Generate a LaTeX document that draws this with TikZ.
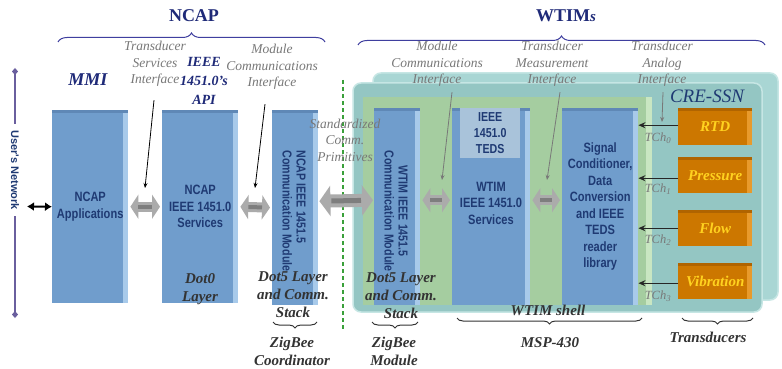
\documentclass[tikz,border=0pt]{standalone}
\usepackage{fontspec}
\setmainfont{Liberation Serif}
\newfontfamily\boxfont{Liberation Sans}[FakeStretch=0.82]
\newfontfamily\netfont{Liberation Sans}
\usetikzlibrary{arrows.meta,decorations.pathreplacing,shapes.geometric}
\definecolor{navy}{HTML}{1F3A73}
\definecolor{titlenavy}{HTML}{1F2A78}
\definecolor{boxblue}{HTML}{709DCC}
\definecolor{boxlight}{HTML}{A8CAEA}
\definecolor{boxtop}{HTML}{5F88B6}
\definecolor{tedsfill}{HTML}{A9C3DA}
\definecolor{tealback}{HTML}{A9D6D4}
\definecolor{tealp}{HTML}{94C6C3}
\definecolor{tealedge}{HTML}{C6E6E4}
\definecolor{greenp}{HTML}{A5CDA0}
\definecolor{greenedge}{HTML}{C9E6C2}
\definecolor{orng}{HTML}{CC7700}
\definecolor{orngl}{HTML}{E89A2C}
\definecolor{orngd}{HTML}{B06400}
\definecolor{ytxt}{HTML}{FFD21F}
\definecolor{graytxt}{HTML}{787878}
\definecolor{bracecol}{HTML}{3F3F9F}
\definecolor{netcol}{HTML}{6A5F9E}
\definecolor{arrgray}{HTML}{ABABAB}
\definecolor{arrdark}{HTML}{7E7E7E}
\definecolor{dashgreen}{HTML}{3AA03A}
\tikzset{
  blk/.style={anchor=north west, inner sep=0pt, fill=boxblue, text=navy, align=center,
    font={\boxfont\bfseries\fontsize{13.5}{16.5}\selectfont},
    path picture={
      \fill[boxlight] ([xshift=-5pt]path picture bounding box.north east) rectangle (path picture bounding box.south east);
      \fill[boxtop] (path picture bounding box.north west) rectangle ([yshift=-3pt]path picture bounding box.north east);
    }},
  tedsbox/.style={anchor=north west, inner sep=0pt, fill=tedsfill, text=navy, align=center,
    font={\boxfont\bfseries\fontsize{13}{16}\selectfont}},
  boxtxt/.style={text=navy, align=center, font={\boxfont\bfseries\fontsize{13.5}{16.5}\selectfont}},
  rottxt/.style={text=navy, rotate=-90, font={\boxfont\bfseries\fontsize{13}{14}\selectfont}},
  trans/.style={anchor=north west, inner sep=0pt, fill=orng, text=ytxt,
    font={\bfseries\itshape\fontsize{15}{17}\selectfont},
    minimum width=74pt,
    path picture={
      \fill[orngl] ([xshift=-5pt]path picture bounding box.north east) rectangle (path picture bounding box.south east);
      \fill[orngd] (path picture bounding box.north west) rectangle ([yshift=-3pt]path picture bounding box.north east);
    }},
  gl/.style={text=graytxt, align=center, font={\itshape\fontsize{13.5}{16.5}\selectfont}},
  bl/.style={text=black!80, align=center, font={\bfseries\itshape\fontsize{15}{18}\selectfont}},
  nl/.style={text=titlenavy, align=center, font={\bfseries\itshape\fontsize{14}{19}\selectfont}},
  title/.style={text=titlenavy, font={\bfseries\fontsize{18}{20}\selectfont}},
  barrow/.style={line width=10pt, draw=arrgray, {Triangle[length=8pt,width=24pt]}-{Triangle[length=8pt,width=24pt]}, shorten <=2pt, shorten >=2pt},
  bstripe/.style={line width=4pt, draw=arrdark, shorten <=10pt, shorten >=10pt},
  bigarrow/.style={line width=13pt, draw=arrgray, {Triangle[length=11pt,width=30pt]}-{Triangle[length=11pt,width=30pt]}, shorten <=1pt, shorten >=1pt},
  bigstripe/.style={line width=5pt, draw=arrdark, shorten <=13pt, shorten >=13pt},
  ifarrow/.style={-{Stealth[length=5pt,width=4pt]}, line width=0.8pt},
  tarrow/.style={-{Stealth[length=7pt,width=6pt]}, line width=1.3pt, draw=black!85},
  topbrace/.style={draw=bracecol, line width=1pt, decorate, decoration={brace, amplitude=9pt}},
  botbrace/.style={draw=black!80, line width=1pt, decorate, decoration={brace, amplitude=6pt}},
  tch/.style={text=graytxt, font={\itshape\fontsize{12.5}{14}\selectfont}},
}
\begin{document}
\begin{tikzpicture}[x=1pt,y=-1pt]
\useasboundingbox (0,0) rectangle (782,369);
\fill[white] (0,0) rectangle (782,369);

% panels
\fill[tealback, draw=tealedge, line width=1.5pt, rounded corners=8pt] (373,73) rectangle (778,300);
\fill[tealp, draw=tealedge, line width=1.5pt, rounded corners=8pt] (353,83) rectangle (762,312);
\fill[greenp] (363,97) rectangle (652,305);
\fill[greenedge] (646,97) rectangle (652,305);

% dashed separator
\draw[dashgreen, line width=1.3pt, dash pattern=on 4pt off 3pt] (343,80) -- (343,330);

% titles and braces
\node[title] (ncaptitle) at (194,16) {NCAP};
\node[title] (wtimtitle) at (566,16) {WTIM\textit{\fontsize{15}{18}\selectfont s}};
\draw[topbrace] (58,42) -- (325,42);
\draw[topbrace] (358,45) -- (765,45);

% user's network
\node[rotate=-90, text=navy, font={\netfont\bfseries\fontsize{11}{13}\selectfont}] (net) at (15,170) {User's Network};
\coordinate (nettop) at (15,68);
\coordinate (netbot) at (15,318);
\draw[netcol, line width=1.4pt, -{Turned Square[length=7pt,width=6pt]}, shorten <=3pt] (net.west) -- (nettop);
\draw[netcol, line width=1.4pt, -{Turned Square[length=7pt,width=6pt]}, shorten <=3pt] (net.east) -- (netbot);
\coordinate (netarr) at (27,206.5);

% boxes
\node[blk, minimum width=76pt, minimum height=193pt] (app) at (52,110) {NCAP\\Applications};
\node[blk, minimum width=76pt, minimum height=193pt] (svc) at (162,110) {NCAP\\IEEE 1451.0\\Services};
\node[blk, minimum width=46pt, minimum height=195pt] (ncom) at (272,110) {};
\node[blk, minimum width=46pt, minimum height=197pt] (wcom) at (374,108) {};
\node[blk, minimum width=78pt, minimum height=197pt] (wsvc) at (452,108) {};
\node[blk, minimum width=76pt, minimum height=197pt] (sig) at (562,108) {Signal\\Conditioner,\\Data\\Conversion\\and IEEE\\TEDS\\reader\\library};
\node[tedsbox, minimum width=60pt, minimum height=50pt] (teds) at (460,108) {IEEE\\1451.0\\TEDS};
\node[boxtxt] (wsvct) at (491,203) {WTIM\\IEEE 1451.0\\Services};
\node[rottxt, align=left] (ncomt) at (294,211) {NCAP IEEE 1451.5\\Communication Module};
\node[rottxt, align=center] (wcomt) at (396,211) {WTIM IEEE 1451.5\\Communication Module};

% transducers
\node[trans, minimum height=37pt] (rtd) at (678,108) {RTD};
\node[trans, minimum height=36pt] (pres) at (678,157) {Pressure};
\node[trans, minimum height=36pt] (flow) at (678,210) {Flow};
\node[trans, minimum height=36pt] (vib) at (678,263) {Vibration};

% user network arrow
\draw[{Latex[length=7pt,width=9pt]}-{Latex[length=7pt,width=9pt]}, line width=2pt] (netarr) -- (app.west);

% block arrows
\draw[barrow] (app.east) -- (svc.west);
\draw[bstripe] (app.east) -- (svc.west);
\draw[barrow] (svc.east) -- (ncom.west);
\draw[bstripe] (svc.east) -- (ncom.west);
\draw[bigarrow] ([yshift=6.5pt]ncom.east) -- ([yshift=6.5pt]wcom.west);
\draw[bigstripe] ([yshift=6.5pt]ncom.east) -- ([yshift=6.5pt]wcom.west);
\draw[barrow] ([yshift=6.5pt]wcom.east) -- ([yshift=6.5pt]wsvc.west);
\draw[bstripe] ([yshift=6.5pt]wcom.east) -- ([yshift=6.5pt]wsvc.west);
\draw[barrow] ([yshift=6.5pt]wsvc.east) -- ([yshift=6.5pt]sig.west);
\draw[bstripe] ([yshift=6.5pt]wsvc.east) -- ([yshift=6.5pt]sig.west);

% transducer arrows
\draw[tarrow] ([yshift=1.5pt]rtd.west) -- ([yshift=1.5pt]rtd.west -| sig.east);
\draw[tarrow] ([yshift=-3pt]pres.west) -- ([yshift=-3pt]pres.west -| sig.east);
\draw[tarrow] (flow.west) -- (flow.west -| sig.east);
\draw[tarrow] ([yshift=-2pt]vib.west) -- ([yshift=-2pt]vib.west -| sig.east);
\node[tch] (tch0) at (658,138) {TCh\textsubscript{0}};
\node[tch] (tch1) at (658,189) {TCh\textsubscript{1}};
\node[tch] (tch2) at (658,240) {TCh\textsubscript{2}};
\node[tch] (tch3) at (658,296) {TCh\textsubscript{3}};

% top labels
\node[nl, font={\bfseries\itshape\fontsize{18}{20}\selectfont}] (mmi) at (88,80) {MMI};
\node[nl] (api) at (204,81) {IEEE\\1451.0's\\API};
\node[gl] (tsi) at (155,64) {Transducer\\Services\\Interface};
\node[gl] (nmci) at (272,67) {Module\\Communications\\Interface};
\node[gl] (wmci) at (437,64) {Module\\Communications\\Interface};
\node[gl] (tmi) at (552,64) {Transducer\\Measurement\\Interface};
\node[gl] (tai) at (662,64) {Transducer\\Analog\\Interface};
\node[gl] (scp) at (345,140) {Standardized\\Comm.\\Primitives};
\node[text=navy, font={\itshape\fontsize{19}{21}\selectfont}] (cre) at (707,96) {CRE-SSN};

% interface pointers
\coordinate (tsitip) at (145,188);
\coordinate (nmcitip) at (255,188);
\coordinate (wmcitip) at (442,180);
\coordinate (tmitip) at (547,180);
\coordinate (taitip) at (662,122);
\draw[ifarrow, draw=black] ([xshift=-1pt,yshift=-10pt]tsi.south) -- (tsitip);
\draw[ifarrow, draw=black] ([xshift=-7pt,yshift=-11pt]nmci.south) -- (nmcitip);
\draw[ifarrow, draw=graytxt] ([xshift=15pt,yshift=-2pt]wmci.south) -- (wmcitip);
\draw[ifarrow, draw=graytxt] ([xshift=8pt,yshift=-2pt]tmi.south) -- (tmitip);
\draw[ifarrow, draw=graytxt] ([xshift=1pt,yshift=-2pt]tai.south) -- (taitip);

% bottom labels
\node[bl] (dot0) at (200,289) {Dot0\\Layer};
\node[bl] (dot5n) at (293,295) {Dot5 Layer\\and Comm.\\Stack};
\node[bl] (dot5w) at (401,296) {Dot5 Layer\\and Comm.\\Stack};
\node[bl] (shell) at (548,310) {WTIM shell};
\draw[botbrace] (317,322) -- (273,322);
\draw[botbrace] (418,322) -- (372,322);
\draw[botbrace] (642,318) -- (457,318);
\draw[botbrace] (753,318) -- (682,318);
\node[bl] (zbc) at (292,351) {ZigBee\\Coordinator};
\node[bl] (zbm) at (394,351) {ZigBee\\Module};
\node[bl] (msp) at (550,343) {MSP-430};
\node[bl] (trd) at (708,337) {Transducers};
\end{tikzpicture}
\end{document}
